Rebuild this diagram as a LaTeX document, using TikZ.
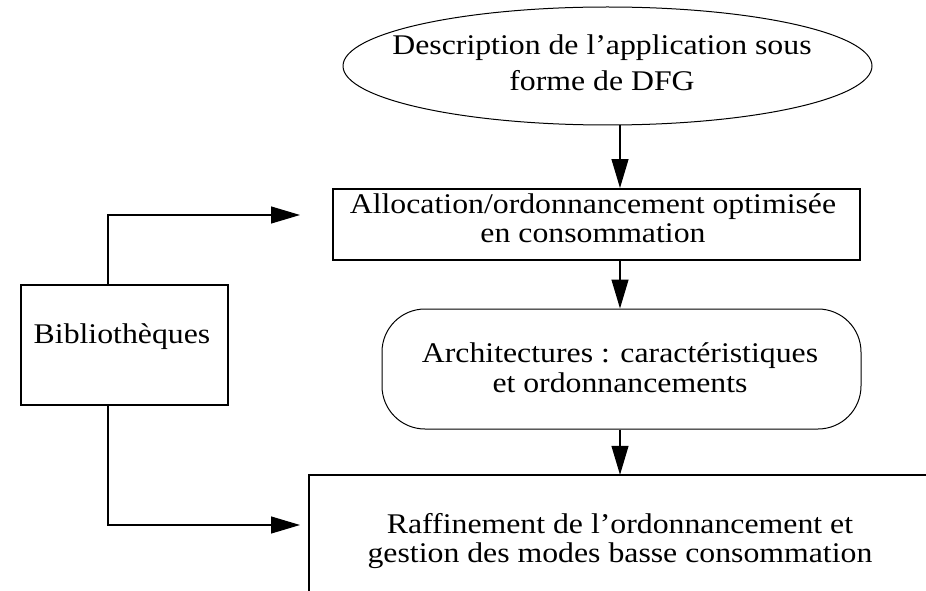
\documentclass[tikz,border=0pt]{standalone}
\usepackage{fontspec}
\setmainfont[FakeStretch=1.115]{Liberation Serif}
\usetikzlibrary{arrows.meta,shapes.geometric}
\begin{document}
\begin{tikzpicture}[x=1pt,y=-1pt,
  txt/.style={inner sep=0pt, align=center},
  conn/.style={line width=1.2pt, -{Triangle[length=29pt,width=17pt]}},
  shp/.style={inner sep=0pt}
]
\useasboundingbox (0,0) rectangle (926,591);
% shapes
\node[shp, draw, ellipse, line width=1pt, minimum width=529pt, minimum height=118pt] (desc) at (607.5,66) {};
\node[shp, draw, line width=2pt, minimum width=527pt, minimum height=71pt] (alloc) at (596.5,224.5) {};
\node[shp, draw, line width=1pt, rounded corners=43pt, minimum width=479pt, minimum height=120pt] (arch) at (621.5,369) {};
\node[shp, draw, line width=1.2pt, minimum width=207pt, minimum height=120pt] (bib) at (124.5,345) {};
\node[shp, minimum width=617pt, minimum height=116pt] (raf) at (617.5,533) {};
\draw[line width=2pt] (raf.south west) -- (raf.north west) -- (raf.north east);
% texts
\node[txt, font=\fontsize{28.5}{36}\selectfont] (desct) at (602,62.4) {Description de l’application sous\\forme de DFG};
\node[txt, font=\fontsize{28.5}{29}\selectfont] (allot) at (593,217.9) {Allocation/ordonnancement optimisée\\en consommation};
\node[txt, font=\fontsize{28.5}{30}\selectfont] (archt) at (620,367.4) {Architectures : caractéristiques\\et ordonnancements};
\node[txt, font=\fontsize{28.5}{29}\selectfont] (raft) at (620,540.9) {Raffinement de l’ordonnancement et\\gestion des modes basse consommation};
\node[txt, font=\fontsize{28.5}{29}\selectfont] (bibt) at (122,336.4) {Bibliothèques};
% connectors
\coordinate (ax) at (620,0);
\draw[conn] (ax |- desc.south) -- (ax |- alloc.north);
\draw[conn] (ax |- alloc.south) -- (ax |- arch.north);
\draw[conn] (ax |- arch.south) -- (ax |- raf.north);
\coordinate (bx) at (108,0);
\coordinate (t1) at (300,215);
\coordinate (t2) at (300,525);
\draw[conn] (bx |- bib.north) |- (t1);
\draw[conn] (bx |- bib.south) |- (t2);
\end{tikzpicture}
\end{document}
